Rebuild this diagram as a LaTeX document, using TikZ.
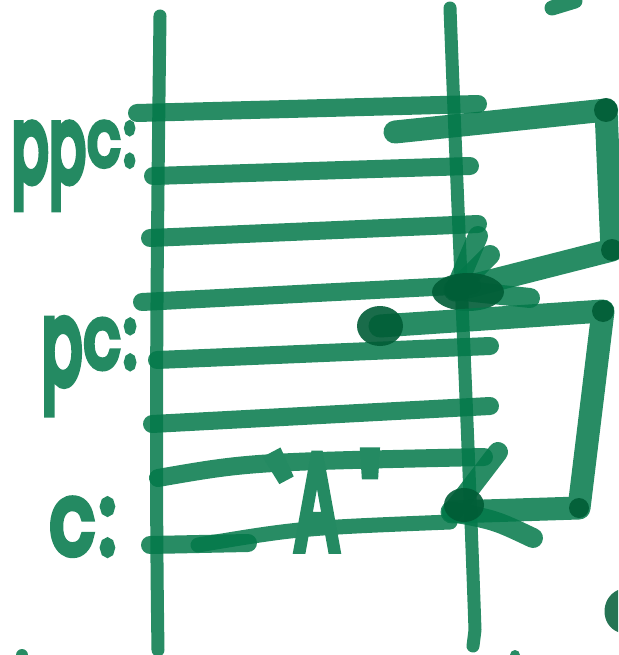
\documentclass[tikz,border=0pt]{standalone}
\usepackage{fontspec}
\usepackage{graphicx}
\newfontfamily\hand[FakeBold=9]{Poppins}
\definecolor{ink}{RGB}{2,120,73}
\definecolor{inkflat}{RGB}{36,138,98}
\definecolor{inkdark}{RGB}{0,92,54}
% a p whose stem runs further down, as in marker handwriting
\newcommand\longp{\raisebox{-16pt}{\scalebox{1}[1.35]{p}}}
% straight tick marks round the character literal
\newcommand\tickl{\raisebox{10pt}{\rotatebox{28}{\fontsize{110}{110}\selectfont\char"27}}}
\newcommand\tickr{\raisebox{8pt}{\fontsize{110}{110}\selectfont\char"27}}
\begin{document}
\begin{tikzpicture}[x=1pt,y=-1pt,
  marker/.style={draw=ink,draw opacity=0.85,line cap=round,line join=round},
  rail/.style={marker,line width=13pt},
  rung/.style={marker,line width=18pt},
  ptr/.style={marker,line width=23pt},
  barb/.style={marker,line width=20pt},
  blot/.style={fill=inkdark,fill opacity=0.9},
  handtext/.style={text=inkflat,inner sep=0pt,anchor=base west}]
\useasboundingbox (0,0) rectangle (618,655);

% the two rails of the memory column
\draw[rail] (160,16) .. controls (157,250) and (155,450) .. (158,650);
\draw[rail] (450,8) .. controls (458,220) and (468,430) .. (475,630) -- (473,646);

% memory cells
\draw[rung] (137,113) -- (478,104);
\draw[rung] (153,176) -- (470,166);
\draw[rung] (150,238) -- (478,224);
\draw[rung] (142,302) -- (472,285);
\draw[rung] (157,360) -- (490,346);
\draw[rung] (152,424) -- (490,406);
\draw[rung] (158,478) .. controls (250,462) .. (484,457);
\draw[rung] (150,545) -- (248,543);
\draw[rung,line width=15pt] (198,545) .. controls (300,528) .. (450,522);

% labels
\node[handtext,font=\hand\fontsize{76}{76}\selectfont] (ppc) at (12,165)
  {\scalebox{0.7}[1]{\longp\kern2pt\longp\kern3pt c\kern6pt:}};
\node[handtext,font=\hand\fontsize{84}{84}\selectfont] (pc) at (42,367)
  {\scalebox{0.7}[1]{\longp\kern3pt c\kern6pt:}};
\node[handtext,font=\hand\fontsize{96}{96}\selectfont] (c) at (50,553)
  {\scalebox{0.75}[1]{c\kern8pt:}};
\node[handtext,font=\hand\fontsize{132}{132}\selectfont] (A) at (266,548)
  {\tickl\kern-28pt\scalebox{0.5}[1]{A}\kern22pt\tickr};

% pointer held in ppc
\coordinate (ppcTail) at (395,132);
\coordinate (ppcC1) at (606,110);
\coordinate (ppcC2) at (612,250);
\coordinate (ppcHead) at (455,290);
\draw[ptr] (ppcTail) -- (ppcC1) -- (ppcC2) -- (ppcHead);
\draw[barb] (ppcHead) -- (478,236);
\draw[barb] (ppcHead) -- (490,255);
\draw[barb] (ppcHead) -- (530,298);
\fill[blot] (468,292) ellipse (36 and 19);
\fill[blot] (ppcC1) circle (12);
\fill[blot] (ppcC2) circle (11);

% pointer held in pc
\coordinate (pcTail) at (380,326);
\coordinate (pcC1) at (603,311);
\coordinate (pcC2) at (579,508);
\coordinate (pcHead) at (452,512);
\draw[ptr] (pcTail) -- (pcC1) -- (pcC2) -- (pcHead);
\draw[barb] (pcHead) -- (498,452);
\draw[barb] (pcHead) .. controls (495,520) .. (533,538);
\fill[blot] (pcTail) ellipse (23 and 20);
\fill[blot] (464,505) ellipse (20 and 17);
\fill[blot] (pcC1) circle (11);
\fill[blot] (pcC2) circle (10);

% stray marks at the edges
\draw[marker,line width=15pt] (552,8) -- (575,1);
\fill[inkdark,fill opacity=0.85] (618,590) .. controls (600,598) and (600,625) .. (618,632) -- cycle;
\fill[ink,fill opacity=0.85] (22,655) circle (6);
\fill[ink,fill opacity=0.85] (515,655) circle (5);
\end{tikzpicture}
\end{document}
